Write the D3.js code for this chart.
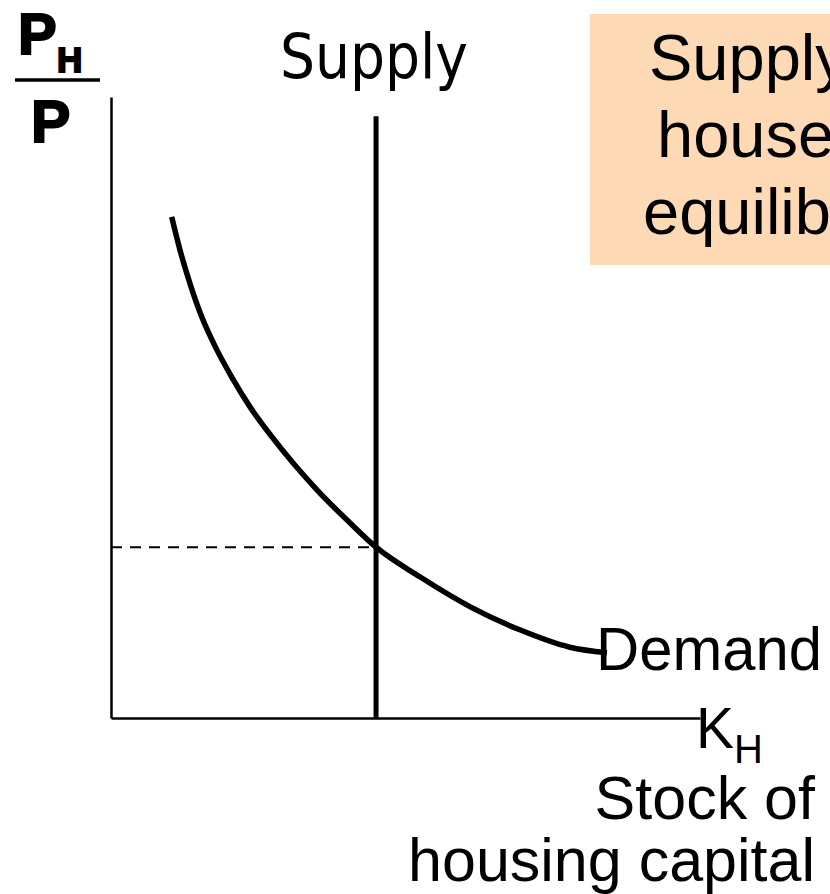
<!DOCTYPE html>
<html lang="en">

<head>
    <script src="https://d3js.org/d3.v7.min.js"></script>
    <style>
        body { margin: 0; background: #fff; }
        svg text { fill: #000; font-family: "Liberation Sans", Arial, sans-serif; }
    </style>
</head>

<body>
    <script>
        // demand curve (quantity of housing, price)
        let demandK = [10.3, 11.7, 13.4, 15.4, 17.7, 20.5, 23.6, 27.3, 35.0, 40.6, 45.0, 52.5, 61.0, 69.4, 77.9, 84.2];
        let demandP = [80.7, 75.4, 70.0, 64.6, 59.8, 54.9, 50.1, 45.3, 36.7, 31.4, 27.5, 22.7, 17.9, 14.2, 11.4, 10.5];

        // fixed supply of housing capital
        let supplyK = 45;
        let supplyTop = 96.9;
        let eqPrice = 27.5;

        let boxLines = ["Supply and demand", "houses determine the", "equilibrium price"];
        let xLabel = ["Stock of", "housing capital"];

        var width = 830, height = 894;

        var x = d3.scaleLinear().domain([0, 100]).range([111, 700]);
        var y = d3.scaleLinear().domain([0, 100]).range([718, 97]);

        var svg = d3.select("body").append("svg")
            .attr("width", width)
            .attr("height", height);

        // note box, cut off at the right edge
        svg.append("rect")
            .attr("x", 590).attr("y", 14)
            .attr("width", 260).attr("height", 251)
            .attr("fill", "#fdd9b6");

        svg.selectAll(".boxtxt")
            .data(boxLines)
            .enter()
            .append("text")
            .attr("class", "boxtxt")
            .attr("x", function(d, i) { return [649, 657, 643][i]; })
            .attr("y", function(d, i) { return 80 + i * 77; })
            .style("font-size", "65px")
            .text(function(d) { return d; });

        // axes, no ticks
        svg.append("g")
            .attr("transform", "translate(0," + y(0) + ")")
            .call(d3.axisBottom(x).tickValues([]).tickSizeOuter(0))
            .select(".domain").attr("stroke", "#000").attr("stroke-width", 2.5);

        svg.append("g")
            .attr("transform", "translate(" + x(0) + ",0)")
            .call(d3.axisLeft(y).tickValues([]).tickSizeOuter(0))
            .select(".domain").attr("stroke", "#000").attr("stroke-width", 2.5);

        // dashed price line
        svg.append("line")
            .attr("x1", x(0)).attr("x2", x(supplyK))
            .attr("y1", y(eqPrice)).attr("y2", y(eqPrice))
            .attr("stroke", "#000")
            .attr("stroke-width", 2)
            .attr("stroke-dasharray", "11,8");

        // supply
        svg.append("line")
            .attr("x1", x(supplyK)).attr("x2", x(supplyK))
            .attr("y1", y(0)).attr("y2", y(supplyTop))
            .attr("stroke", "#000")
            .attr("stroke-width", 5);

        // demand
        var line = d3.line()
            .x(function(d, i) { return x(demandK[i]); })
            .y(function(d) { return y(d); })
            .curve(d3.curveMonotoneX);

        svg.append("path")
            .attr("d", line(demandP))
            .attr("fill", "none")
            .attr("stroke", "#000")
            .attr("stroke-width", 5.5);

        // labels
        svg.append("text")
            .attr("x", 280).attr("y", 78)
            .attr("textLength", 188)
            .attr("lengthAdjust", "spacingAndGlyphs")
            .style("font-family", "'DejaVu Sans', sans-serif")
            .style("font-size", "63px")
            .text("Supply");

        svg.append("text")
            .attr("x", 596).attr("y", 670)
            .attr("textLength", 226)
            .attr("lengthAdjust", "spacingAndGlyphs")
            .style("font-size", "62px")
            .text("Demand");

        var kh = svg.append("text")
            .attr("x", 696).attr("y", 748)
            .style("font-size", "57px");
        kh.append("tspan").text("K");
        kh.append("tspan")
            .attr("dy", 15)
            .style("font-size", "40px")
            .text("H");

        svg.selectAll(".xlab")
            .data(xLabel)
            .enter()
            .append("text")
            .attr("class", "xlab")
            .attr("x", 815)
            .attr("y", function(d, i) { return 819 + i * 62; })
            .attr("text-anchor", "end")
            .style("font-size", "61px")
            .text(function(d) { return d; });

        // P_H / P, drawn a bit heavier like the original
        var ylab = svg.append("g")
            .style("font-family", "'DejaVu Sans', sans-serif")
            .style("font-weight", "bold")
            .style("stroke", "#000")
            .style("stroke-width", 2);

        ylab.append("text")
            .attr("x", 18).attr("y", 54)
            .style("font-size", "58px")
            .text("P");
        ylab.append("text")
            .attr("x", 57).attr("y", 72)
            .style("font-size", "35px")
            .text("H");
        ylab.append("line")
            .attr("x1", 15).attr("x2", 100)
            .attr("y1", 80).attr("y2", 80)
            .attr("stroke-width", 3.5);
        ylab.append("text")
            .attr("x", 31).attr("y", 142)
            .style("font-size", "59px")
            .text("P");
    </script>
</body>

</html>
